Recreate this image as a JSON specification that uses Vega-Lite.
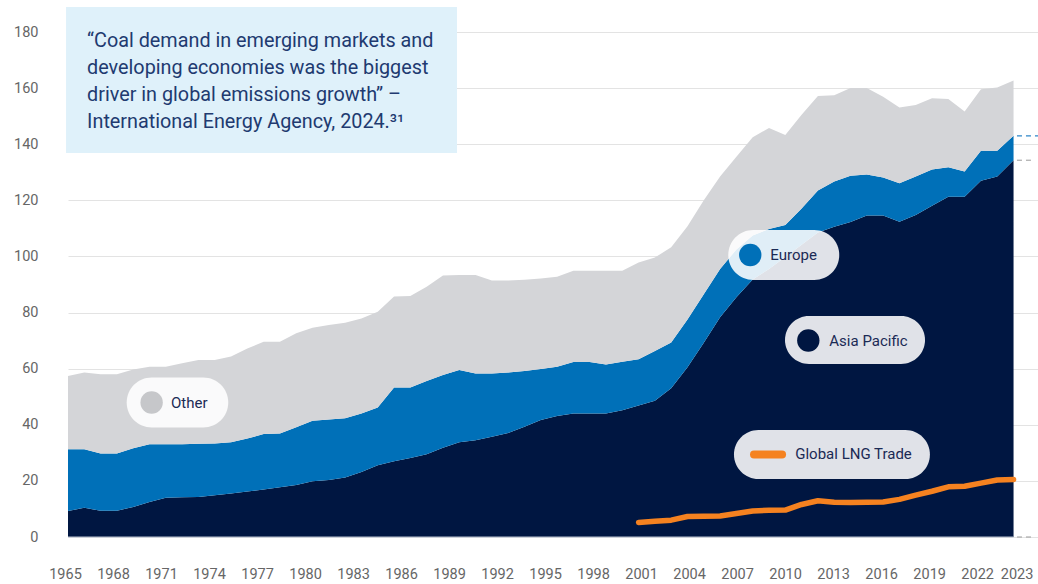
{
  "$schema": "https://vega.github.io/schema/vega-lite/v6.json",
  "width": 970,
  "height": 505,
  "autosize": "none",
  "padding": {"left": 68, "top": 32, "right": 0, "bottom": 47},
  "background": "white",
  "config": {"view": {"stroke": null}, "font": "Roboto"},
  "datasets": {
    "coal": [
      {"year": 1965, "Asia Pacific": 9.3, "Europe": 22.0, "Other": 26.1},
      {"year": 1966, "Asia Pacific": 10.4, "Europe": 20.9, "Other": 27.3},
      {"year": 1967, "Asia Pacific": 9.4, "Europe": 20.4, "Other": 28.2},
      {"year": 1968, "Asia Pacific": 9.4, "Europe": 20.4, "Other": 28.2},
      {"year": 1969, "Asia Pacific": 10.7, "Europe": 20.9, "Other": 28.1},
      {"year": 1970, "Asia Pacific": 12.5, "Europe": 20.6, "Other": 27.6},
      {"year": 1971, "Asia Pacific": 14.0, "Europe": 19.1, "Other": 27.6},
      {"year": 1972, "Asia Pacific": 14.2, "Europe": 18.9, "Other": 28.8},
      {"year": 1973, "Asia Pacific": 14.3, "Europe": 18.9, "Other": 29.9},
      {"year": 1974, "Asia Pacific": 14.9, "Europe": 18.4, "Other": 29.8},
      {"year": 1975, "Asia Pacific": 15.5, "Europe": 18.3, "Other": 30.5},
      {"year": 1976, "Asia Pacific": 16.2, "Europe": 18.9, "Other": 32.1},
      {"year": 1977, "Asia Pacific": 16.9, "Europe": 19.8, "Other": 32.9},
      {"year": 1978, "Asia Pacific": 17.7, "Europe": 19.2, "Other": 32.7},
      {"year": 1979, "Asia Pacific": 18.5, "Europe": 20.6, "Other": 33.5},
      {"year": 1980, "Asia Pacific": 19.9, "Europe": 21.5, "Other": 33.2},
      {"year": 1981, "Asia Pacific": 20.3, "Europe": 21.6, "Other": 33.7},
      {"year": 1982, "Asia Pacific": 21.2, "Europe": 21.1, "Other": 34.1},
      {"year": 1983, "Asia Pacific": 23.2, "Europe": 20.8, "Other": 33.9},
      {"year": 1984, "Asia Pacific": 25.6, "Europe": 20.6, "Other": 34.1},
      {"year": 1985, "Asia Pacific": 27.0, "Europe": 26.3, "Other": 32.4},
      {"year": 1986, "Asia Pacific": 28.2, "Europe": 25.1, "Other": 32.6},
      {"year": 1987, "Asia Pacific": 29.5, "Europe": 26.1, "Other": 33.6},
      {"year": 1988, "Asia Pacific": 31.8, "Europe": 25.9, "Other": 35.5},
      {"year": 1989, "Asia Pacific": 33.8, "Europe": 25.7, "Other": 33.9},
      {"year": 1990, "Asia Pacific": 34.5, "Europe": 23.8, "Other": 35.1},
      {"year": 1991, "Asia Pacific": 35.7, "Europe": 22.6, "Other": 33.1},
      {"year": 1992, "Asia Pacific": 37.1, "Europe": 21.5, "Other": 32.8},
      {"year": 1993, "Asia Pacific": 39.3, "Europe": 19.9, "Other": 32.5},
      {"year": 1994, "Asia Pacific": 41.7, "Europe": 18.2, "Other": 32.2},
      {"year": 1995, "Asia Pacific": 43.1, "Europe": 17.6, "Other": 32.1},
      {"year": 1996, "Asia Pacific": 44.0, "Europe": 18.4, "Other": 32.5},
      {"year": 1997, "Asia Pacific": 44.0, "Europe": 18.4, "Other": 32.5},
      {"year": 1998, "Asia Pacific": 44.0, "Europe": 17.5, "Other": 33.4},
      {"year": 1999, "Asia Pacific": 45.2, "Europe": 17.3, "Other": 32.4},
      {"year": 2000, "Asia Pacific": 46.9, "Europe": 16.5, "Other": 34.4},
      {"year": 2001, "Asia Pacific": 48.6, "Europe": 17.7, "Other": 33.3},
      {"year": 2002, "Asia Pacific": 53.0, "Europe": 16.3, "Other": 34.0},
      {"year": 2003, "Asia Pacific": 60.5, "Europe": 17.0, "Other": 33.3},
      {"year": 2004, "Asia Pacific": 69.2, "Europe": 17.3, "Other": 33.5},
      {"year": 2005, "Asia Pacific": 78.3, "Europe": 17.2, "Other": 33.0},
      {"year": 2006, "Asia Pacific": 85.5, "Europe": 17.0, "Other": 33.0},
      {"year": 2007, "Asia Pacific": 91.8, "Europe": 15.7, "Other": 35.0},
      {"year": 2008, "Asia Pacific": 95.5, "Europe": 14.3, "Other": 36.0},
      {"year": 2009, "Asia Pacific": 99.8, "Europe": 11.4, "Other": 32.1},
      {"year": 2010, "Asia Pacific": 104.2, "Europe": 12.9, "Other": 33.4},
      {"year": 2011, "Asia Pacific": 108.5, "Europe": 15.0, "Other": 33.7},
      {"year": 2012, "Asia Pacific": 110.6, "Europe": 16.1, "Other": 30.8},
      {"year": 2013, "Asia Pacific": 112.3, "Europe": 16.5, "Other": 31.2},
      {"year": 2014, "Asia Pacific": 114.6, "Europe": 14.6, "Other": 30.8},
      {"year": 2015, "Asia Pacific": 114.6, "Europe": 13.5, "Other": 28.8},
      {"year": 2016, "Asia Pacific": 112.4, "Europe": 13.7, "Other": 27.0},
      {"year": 2017, "Asia Pacific": 114.8, "Europe": 13.7, "Other": 25.5},
      {"year": 2018, "Asia Pacific": 118.1, "Europe": 12.9, "Other": 25.4},
      {"year": 2019, "Asia Pacific": 121.3, "Europe": 10.5, "Other": 24.3},
      {"year": 2020, "Asia Pacific": 121.3, "Europe": 9.0, "Other": 21.4},
      {"year": 2021, "Asia Pacific": 127.0, "Europe": 10.7, "Other": 21.9},
      {"year": 2022, "Asia Pacific": 128.5, "Europe": 9.2, "Other": 22.5},
      {"year": 2023, "Asia Pacific": 134.3, "Europe": 8.7, "Other": 19.7}
    ],
    "lng": [
      {"year": 2000, "lng": 5.2},
      {"year": 2001, "lng": 5.6},
      {"year": 2002, "lng": 6.0},
      {"year": 2003, "lng": 7.3},
      {"year": 2004, "lng": 7.4},
      {"year": 2005, "lng": 7.5},
      {"year": 2006, "lng": 8.4},
      {"year": 2007, "lng": 9.3},
      {"year": 2008, "lng": 9.5},
      {"year": 2009, "lng": 9.6},
      {"year": 2010, "lng": 11.6},
      {"year": 2011, "lng": 12.9},
      {"year": 2012, "lng": 12.4},
      {"year": 2013, "lng": 12.3},
      {"year": 2014, "lng": 12.4},
      {"year": 2015, "lng": 12.5},
      {"year": 2016, "lng": 13.4},
      {"year": 2017, "lng": 14.9},
      {"year": 2018, "lng": 16.3},
      {"year": 2019, "lng": 17.9},
      {"year": 2020, "lng": 18.1},
      {"year": 2021, "lng": 19.2},
      {"year": 2022, "lng": 20.3},
      {"year": 2023, "lng": 20.5}
    ]
  },
  "layer": [
    {
      "data": {"name": "coal"},
      "transform": [{"fold": ["Asia Pacific", "Europe", "Other"], "as": ["region", "value"]}],
      "mark": {"type": "area", "interpolate": "linear"},
      "encoding": {
        "x": {
          "field": "year", "type": "quantitative",
          "scale": {"domain": [1965, 2024.5], "nice": false, "zero": false},
          "axis": {
            "title": null,
            "values": [1965, 1968, 1971, 1974, 1977, 1980, 1983, 1986, 1989, 1992, 1995, 1998, 2001, 2004, 2007, 2010, 2013, 2016, 2019, 2022, 2023],
            "format": "d",
            "grid": false, "domain": false, "ticks": false, "tickSize": 0,
            "labelFont": "Roboto", "labelFontSize": 14.5, "labelColor": "#666666",
            "labelPadding": 30, "labelOverlap": false, "labelFlush": false,
            "labelOffset": {"expr": "datum.value == 2023 ? 3 : -3 - 0.3 * (datum.value - 1965)"}
          }
        },
        "y": {
          "field": "value", "type": "quantitative", "stack": "zero",
          "scale": {"domain": [0, 180], "nice": false},
          "axis": {
            "title": null,
            "values": [0, 20, 40, 60, 80, 100, 120, 140, 160, 180],
            "grid": true, "gridColor": "#e3e3e3", "gridWidth": 1,
            "domain": false, "ticks": false, "tickSize": 0,
            "labelFont": "Roboto", "labelFontSize": 14.5, "labelColor": "#666666",
            "labelPadding": 30
          }
        },
        "color": {
          "field": "region", "type": "nominal",
          "scale": {"domain": ["Asia Pacific", "Europe", "Other"], "range": ["#001641", "#0070b8", "#d4d5d8"]},
          "legend": null
        },
        "order": {"field": "region", "sort": "ascending"}
      }
    },
    {
      "data": {"name": "lng"},
      "mark": {"type": "line", "color": "#f58220", "strokeWidth": 5.5, "strokeCap": "round", "strokeJoin": "round"},
      "encoding": {
        "x": {"field": "year", "type": "quantitative"},
        "y": {"field": "lng", "type": "quantitative"}
      }
    },
    {
      "data": {"values": [{}]},
      "mark": {"type": "rule", "color": "#b8c0d0", "strokeWidth": 1},
      "encoding": {"x": {"datum": 1965}, "x2": {"datum": 2023}, "y": {"datum": 0}}
    },
    {
      "data": {"values": [{}]},
      "mark": {"type": "rule", "color": "#9a9a9a", "strokeWidth": 1, "strokeDash": [5, 4]},
      "encoding": {"x": {"datum": 2023.21}, "x2": {"datum": 2024.3}, "y": {"datum": 0}}
    },
    {
      "data": {"values": [{}]},
      "mark": {"type": "rule", "color": "#9a9a9a", "strokeWidth": 1, "strokeDash": [5, 4]},
      "encoding": {"x": {"datum": 2023.21}, "x2": {"datum": 2024.3}, "y": {"datum": 134.3}}
    },
    {
      "data": {"values": [{}]},
      "mark": {"type": "rule", "color": "#2f86c8", "strokeWidth": 1.2, "strokeDash": [5, 4]},
      "encoding": {"x": {"datum": 2023.21}, "x2": {"datum": 2024.5}, "y": {"datum": 143.0}}
    },
    {
      "data": {"values": [{}]},
      "mark": {"type": "rect", "fill": "#dff1fa"},
      "encoding": {"x": {"datum": 1964.88}, "x2": {"datum": 1988.86}, "y": {"datum": 188.9}, "y2": {"datum": 136.87}}
    },
    {
      "data": {"values": [{}]},
      "mark": {
        "type": "text", "align": "left", "baseline": "alphabetic",
        "font": "Roboto", "fontSize": 19.8, "lineHeight": 27, "color": "#213a70",
        "text": ["“Coal demand in emerging markets and", "\u00a0developing economies was the biggest", "\u00a0driver in global emissions growth” –", "\u00a0International Energy Agency, 2024.³¹"]
      },
      "encoding": {"x": {"datum": 1966.17}, "y": {"datum": 174.65}}
    },
    {
      "data": {"values": [{}]},
      "mark": {"type": "rect", "fill": "white", "fillOpacity": 0.88, "cornerRadius": 25},
      "encoding": {"x": {"datum": 1968.6}, "x2": {"datum": 1974.83}, "y": {"datum": 56.85}, "y2": {"datum": 39.03}}
    },
    {
      "data": {"values": [{}]},
      "mark": {"type": "rect", "fill": "white", "fillOpacity": 0.88, "cornerRadius": 25},
      "encoding": {"x": {"datum": 2005.5}, "x2": {"datum": 2012.31}, "y": {"datum": 109.42}, "y2": {"datum": 91.6}}
    },
    {
      "data": {"values": [{}]},
      "mark": {"type": "rect", "fill": "white", "fillOpacity": 0.88, "cornerRadius": 25},
      "encoding": {"x": {"datum": 2008.98}, "x2": {"datum": 2017.57}, "y": {"datum": 78.77}, "y2": {"datum": 61.66}}
    },
    {
      "data": {"values": [{}]},
      "mark": {"type": "rect", "fill": "white", "fillOpacity": 0.88, "cornerRadius": 25},
      "encoding": {"x": {"datum": 2005.85}, "x2": {"datum": 2017.87}, "y": {"datum": 38.14}, "y2": {"datum": 20.67}}
    },
    {
      "data": {"values": [{}]},
      "mark": {"type": "point", "shape": "circle", "filled": true, "size": 500, "color": "#c6c7ca", "opacity": 1},
      "encoding": {"x": {"datum": 1970.13}, "y": {"datum": 47.94}}
    },
    {
      "data": {"values": [{}]},
      "mark": {"type": "point", "shape": "circle", "filled": true, "size": 500, "color": "#0070b8", "opacity": 1},
      "encoding": {"x": {"datum": 2006.85}, "y": {"datum": 100.51}}
    },
    {
      "data": {"values": [{}]},
      "mark": {"type": "point", "shape": "circle", "filled": true, "size": 500, "color": "#001641", "opacity": 1},
      "encoding": {"x": {"datum": 2010.41}, "y": {"datum": 70.04}}
    },
    {
      "data": {"values": [{}]},
      "mark": {"type": "rule", "color": "#f58220", "strokeWidth": 8, "strokeCap": "round"},
      "encoding": {"x": {"datum": 2007.08}, "x2": {"datum": 2008.8}, "y": {"datum": 29.41}}
    },
    {
      "data": {"values": [{}]},
      "mark": {"type": "text", "align": "left", "baseline": "middle", "font": "Roboto", "fontSize": 15, "color": "#1b2a55", "text": "Other"},
      "encoding": {"x": {"datum": 1971.32}, "y": {"datum": 47.9}}
    },
    {
      "data": {"values": [{}]},
      "mark": {"type": "text", "align": "left", "baseline": "middle", "font": "Roboto", "fontSize": 15, "color": "#1b2a55", "text": "Europe"},
      "encoding": {"x": {"datum": 2008.08}, "y": {"datum": 100.5}}
    },
    {
      "data": {"values": [{}]},
      "mark": {"type": "text", "align": "left", "baseline": "middle", "font": "Roboto", "fontSize": 15, "color": "#1b2a55", "text": "Asia Pacific"},
      "encoding": {"x": {"datum": 2011.7}, "y": {"datum": 70.0}}
    },
    {
      "data": {"values": [{}]},
      "mark": {"type": "text", "align": "left", "baseline": "middle", "font": "Roboto", "fontSize": 15, "color": "#1b2a55", "text": "Global LNG Trade"},
      "encoding": {"x": {"datum": 2009.61}, "y": {"datum": 29.41}}
    }
  ]
}
